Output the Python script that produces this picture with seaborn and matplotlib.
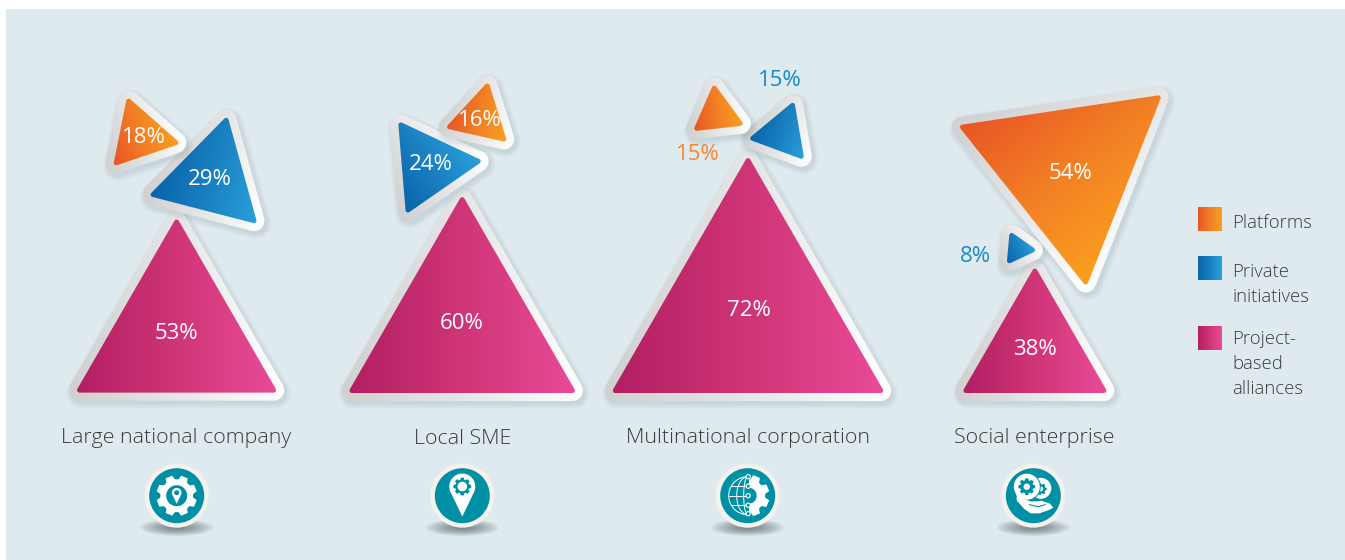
import numpy as np
import seaborn as sns
import matplotlib.pyplot as plt
from matplotlib.patches import Polygon, Rectangle, Ellipse, Circle

#%% data
categories = ['Large national company', 'Local SME', 'Multinational corporation', 'Social enterprise']
platforms = [18, 16, 15, 54]
private = [29, 24, 15, 8]
project = [53, 60, 72, 38]
legend_labels = [['Platforms'], ['Private', 'initiatives'], ['Project-', 'based', 'alliances']]

#%% layout, in pixels of the 1345x560 picture
SIDE_PER_PCT = 3.75
CORNER_PAD = 4      # tips are rounded off, so the true corners sit a bit further out
cat_x = [176.5, 462.3, 748, 1034.5]
icon_x = [176.7, 462.3, 747.7, 1033.3]

plat_xy = [(140.3, 135.5), (480.2, 117.3), (717.1, 113.3), (1068.8, 169)]
plat_rot = [-18.7, 12.7, -6.4, 51.5]
plat_size = [1, 1, 0.86, 1]          # the orange 15% is drawn smaller in the original
plat_txt = [(144, 137.5), (479.5, 121), (698.3, 154.3), (1070.7, 173.7)]

priv_xy = [(211.1, 178.5), (429, 165.4), (782.2, 133.3), (1017.9, 248.7)]
priv_rot = [14.5, -34.8, 20.3, -25]
priv_size = [1, 1, 1, 1]
priv_txt = [(210.3, 179.3), (430.7, 164.3), (780, 81), (975, 256)]

proj_xy = [(176.6, 334.1), (462.2, 326.9), (748, 313.9), (1034.9, 350.7)]
proj_rot = [0, 0, 0, 0]
proj_size = [1, 1, 1, 1]
proj_txt = [(176.7, 333.3), (462, 323.7), (749.3, 311), (1035, 349.3)]

ORANGE = ['#E95524', '#F27F25', '#FB9F1F']
BLUE = ['#0865AC', '#1A80C0', '#2A9FDB']
PINK = ['#B21F63', '#CF3577', '#E94B97']
FRAME = ['#D0D0D0', '#E6E6E6', '#FFFFFF']
BG = '#DFEAEE'
TEAL = '#0090A6'
RING = '#F5F2EE'
TXT = '#3A3A3C'

sns.set_theme(style='white')
plt.rcParams['font.family'] = ['Open Sans', 'DejaVu Sans']

fig = plt.figure(figsize=(13.45, 5.6), dpi=100)
ax = fig.add_axes([0, 0, 1, 1])
ax.axis('off')
ax.add_patch(Rectangle((6, 9), 1345, 560, fc=BG, ec='none', zorder=0))

#%% helpers
def triangle(c, side, rot):
    r = side / np.sqrt(3)
    a = np.radians(rot + np.array([0, 120, 240]))
    return np.column_stack([c[0] + r * np.sin(a), c[1] - r * np.cos(a)])

def inset(v, d):
    c = v.mean(axis=0)
    r = np.linalg.norm(v[0] - c)
    return c + (v - c) * max(r - 2 * d, 0.1) / r

def outline(v, d, n=12):
    # polygon v grown by d, with round corners
    c = v.mean(axis=0)
    pts = []
    for p in v:
        a0 = np.arctan2(p[1] - c[1], p[0] - c[0])
        for t in np.linspace(a0 - np.pi / 3, a0 + np.pi / 3, n):
            pts.append((p[0] + d * np.cos(t), p[1] + d * np.sin(t)))
    return np.array(pts)

def gradient(poly, c, side, rot, colors, z):
    x0, y0 = poly.min(axis=0) - 1
    x1, y1 = poly.max(axis=0) + 1
    xx, yy = np.meshgrid(np.linspace(x0, x1, 200), np.linspace(y0, y1, 200))
    a = np.radians(rot)
    t = ((xx - c[0]) * np.cos(a) + (yy - c[1]) * np.sin(a)) / side + 0.5
    cmap = sns.blend_palette(colors, as_cmap=True)
    im = ax.imshow(np.clip(t, 0, 1), extent=(x0, x1, y1, y0), cmap=cmap, vmin=0, vmax=1,
                   aspect='auto', interpolation='bilinear', zorder=z)
    clip = Polygon(poly, closed=True, transform=ax.transData, fc='none', ec='none')
    ax.add_patch(clip)
    im.set_clip_path(clip)

def draw_tri(c, side, rot, colors, z):
    v = triangle(c, side + CORNER_PAD, rot)
    small = inset(v, 2.5)
    frame = outline(small, 10.5)
    for k in range(6, 0, -1):
        ax.add_patch(Polygon(outline(small, 9.5 + k * 1.0) + (2, 3), closed=True,
                             fc='#3F6670', ec='none', alpha=0.022, zorder=z))
    gradient(frame, c, side + 16, rot, FRAME, z + 0.1)
    gradient(outline(small, 2.5), c, side, rot, colors, z + 0.2)

def gear(cx, cy, ro, ri, teeth, color, z, phase=0.0):
    pts = []
    step = 2 * np.pi / teeth
    for i in range(teeth):
        a = i * step + phase
        for da, r in [(-0.36, ri), (-0.22, ro), (0.22, ro), (0.36, ri)]:
            pts.append((cx + r * np.cos(a + da * step), cy + r * np.sin(a + da * step)))
    p = Polygon(pts, closed=True, fc=color, ec='none', zorder=z)
    ax.add_patch(p)
    return p

def pin(cx, cy, r, tip, color, z):
    a = np.linspace(np.radians(150), np.radians(390), 40)
    pts = [(cx + r * np.cos(t), cy + r * np.sin(t)) for t in a] + [(cx, tip)]
    ax.add_patch(Polygon(pts, closed=True, fc=color, ec='none', zorder=z))

def disc(x, y, r, color, z):
    ax.add_patch(Circle((x, y), r, fc=color, ec='none', zorder=z))

#%% triangles
z = 2
for i in range(4):
    draw_tri(proj_xy[i], project[i] * SIDE_PER_PCT * proj_size[i], proj_rot[i], PINK, z)
    z += 1
    draw_tri(priv_xy[i], private[i] * SIDE_PER_PCT * priv_size[i], priv_rot[i], BLUE, z)
    z += 1
    draw_tri(plat_xy[i], platforms[i] * SIDE_PER_PCT * plat_size[i], plat_rot[i], ORANGE, z)
    z += 1

#%% value labels
VAL_SIZE = 16
for i in range(4):
    outside = (i == 2)
    ax.text(*proj_txt[i], f'{project[i]}%', color='white', fontsize=VAL_SIZE, ha='center', va='center', zorder=50)
    ax.text(*priv_txt[i], f'{private[i]}%', color='#1B87C9' if i >= 2 else 'white', fontsize=VAL_SIZE,
            ha='center', va='center', zorder=50)
    ax.text(*plat_txt[i], f'{platforms[i]}%', color='#F58634' if outside else 'white', fontsize=VAL_SIZE,
            ha='center', va='center', zorder=50)
    ax.text(cat_x[i], 438.5, categories[i], color=TXT, fontsize=15.4, ha='center', va='center',
            fontweight='light', zorder=50)

#%% legend
swatch_y = [219, 268, 338]
swatch_cols = [ORANGE, BLUE, PINK]
line_y = [[223], [272, 297.5], [338.5, 364, 389.5]]
for sy, cols, labs, ys in zip(swatch_y, swatch_cols, legend_labels, line_y):
    sq = np.array([(1198, sy - 12), (1222, sy - 12), (1222, sy + 12), (1198, sy + 12)], dtype=float)
    gradient(sq, (1210, sy), 24, 0, cols, 40)
    for lab, y in zip(labs, ys):
        ax.text(1232.5, y, lab, color=TXT, fontsize=13.3, ha='left', va='center', fontweight='light', zorder=50)

#%% icons
ICON_Y = 495.7
for x in icon_x:
    for k in range(14):
        ax.add_patch(Ellipse((x, 527.5), 74 * (1 - k / 15), 17 * (1 - k / 15), fc='#3A4246', ec='none',
                             alpha=0.055, zorder=60))
sns.scatterplot(x=icon_x, y=[ICON_Y] * 4, s=(32 * 2 * 0.72) ** 2, color=RING, edgecolor='none',
                ax=ax, legend=False, zorder=61)
sns.scatterplot(x=icon_x, y=[ICON_Y] * 4, s=(27.5 * 2 * 0.72) ** 2, color=TEAL, edgecolor='none',
                ax=ax, legend=False, zorder=62)

# gear with pin
x = icon_x[0]
gear(x, ICON_Y, 20.5, 16.5, 8, 'white', 63, phase=np.pi / 8)
disc(x, ICON_Y, 10.5, TEAL, 64)
pin(x, ICON_Y - 3, 4.8, ICON_Y + 8, 'white', 65)
disc(x, ICON_Y - 3, 2.5, TEAL, 66)

# pin with gear
x = icon_x[1]
pin(x, 486.5, 13, 516.5, 'white', 63)
gear(x, 486.5, 9, 7, 8, TEAL, 64)
disc(x, 486.5, 4.8, 'white', 65)

# globe and half gear
x = icon_x[2]
half = gear(x + 1, ICON_Y, 21, 16.5, 8, 'white', 63, phase=np.pi / 8)
half.set_clip_path(Rectangle((x + 1, ICON_Y - 24), 26, 48, transform=ax.transData))
disc(x + 1, ICON_Y, 8, TEAL, 64)
t = np.linspace(np.pi / 2, 3 * np.pi / 2, 40)
for w in [19, 11, 4]:
    ax.plot(x + w * np.cos(t), ICON_Y + 19 * np.sin(t), color='white', lw=0.7, zorder=65)
for dy, w in [(-9.5, 16.5), (0, 19), (9.5, 16.5)]:
    ax.plot([x - w, x], [ICON_Y + dy, ICON_Y + dy], color='white', lw=0.7, zorder=65)
for dy in [-19, -9.5, 0, 9.5, 18]:
    ax.add_patch(Circle((x + 0.5, ICON_Y + dy), 2.1, fc=TEAL, ec='white', lw=0.8, zorder=66))

# bubbles and hand
x = icon_x[3]
disc(x + 7.5, 488.3, 11, TEAL, 63)
disc(x + 7.5, 488.3, 10.5, 'white', 64)
gear(x + 7.5, 489, 6, 4.6, 7, TEAL, 65)
disc(x + 7.5, 489, 2.4, 'white', 66)
disc(x - 6.5, 486.7, 14, TEAL, 67)
disc(x - 6.5, 486.7, 13, 'white', 68)
ax.add_patch(Polygon([(x - 17, 493), (x - 16, 502), (x - 8, 499)], closed=True, fc='white', ec='none', zorder=68))
gear(x - 6.5, 486.7, 8.5, 6.6, 8, TEAL, 69)
disc(x - 6.5, 486.7, 3.2, 'white', 70)
hand = np.array([(48, 115), (72, 117), (92, 124), (112, 124), (124, 122), (150, 131), (160, 143),
                 (147, 150), (118, 160), (92, 160), (72, 146), (58, 130)], dtype=float)
ax.add_patch(Polygon(np.column_stack([x + (hand[:, 0] - 100) / 3, ICON_Y + (hand[:, 1] - 107) / 3]),
                     closed=True, fc='white', ec='none', zorder=68))
ax.plot([x - 4, x + 5, x + 12], [ICON_Y + 9, ICON_Y + 11, ICON_Y + 9], color=TEAL, lw=0.8, zorder=69)

ax.set_xlim(0, 1345)
ax.set_ylim(560, 0)
fig.savefig('out.png', dpi=100, facecolor='white')
